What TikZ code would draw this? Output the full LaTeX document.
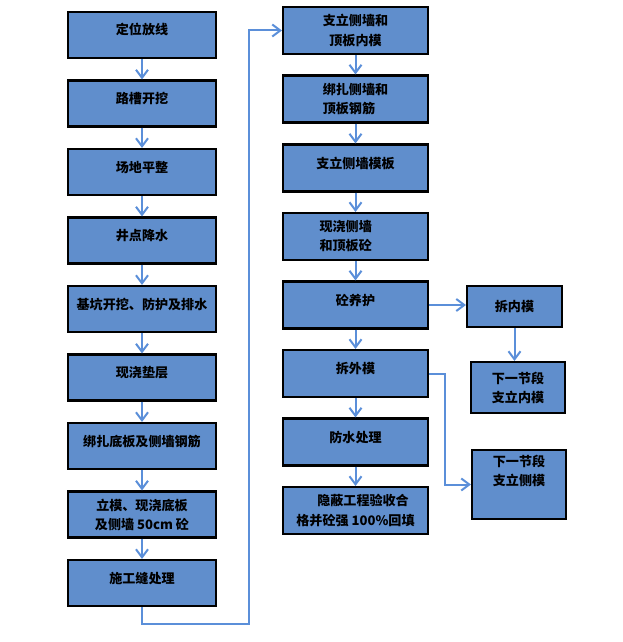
\documentclass[tikz,border=0pt]{standalone}
\usepackage{fontspec}
\setmainfont{Noto Sans CJK SC}
\usetikzlibrary{arrows.meta}

\definecolor{paperblue}{RGB}{96,142,204}
\definecolor{linkblue}{RGB}{91,143,217}

\begin{document}
\begin{tikzpicture}[x=0.75pt,y=-0.75pt]
	\tikzstyle{every node}+=[font=\fontsize{9.8pt}{14.3pt}\selectfont\bfseries]
	\tikzstyle{box}=[draw=black,line width=1.6pt,fill=paperblue,inner sep=2pt,align=center,minimum width=111pt,minimum height=34.5pt]
	\tikzstyle{rbox}=[box,minimum width=108.75pt,minimum height=35.25pt]
	\tikzstyle{raised}=[text height=0.8em,text depth=0.8em]
	\tikzstyle{link}=[draw=linkblue,line width=1.5pt,-{Straight Barb[length=6pt,width=9pt]}]
	\useasboundingbox (0,0) rectangle (622,642);
	% left column
	\node [box,raised] (dwfx) at (142,35) {定位放线};
	\node [box,raised] (lckw) at (142,103.5) {路槽开挖};
	\node [box,raised] (cdpz) at (142,172) {场地平整};
	\node [box,raised] (jdjs) at (142,240.5) {井点降水};
	\node [box,raised] (jkkw) at (142,309) {基坑开挖、防护及排水};
	\node [box,raised] (xjdc) at (142,377.5) {现浇垫层};
	\node [box,raised] (bzdb) at (142,446) {绑扎底板及侧墙钢筋};
	\node [box] (lmxj) at (142,514.5) {立模、现浇底板\\及侧墙 50cm 砼};
	\node [box,raised] (sgf) at (142,583) {施工缝处理};
	% right column
	\node [rbox] (zlnm) at (355.5,30.5) {支立侧墙和\\顶板内模};
	\node [rbox,align=left] (bzcq) at (355.5,99) {绑扎侧墙和\\顶板钢筋};
	\node [rbox,raised] (zlcm) at (355.5,168) {支立侧墙模板};
	\node [rbox] (xjcq) at (355.5,236.5) {现浇侧墙\hspace*{1.5em}\\和顶板砼\hspace*{1.5em}};
	\node [rbox,raised] (yhu) at (355.5,305) {砼养护};
	\node [rbox,raised] (cwm) at (355.5,373.5) {拆外模};
	\node [rbox,raised] (fscl) at (355.5,442) {防水处理};
	\node [rbox,align=left] (ybgc) at (355.5,510.5) {\hspace*{1.6em}隐蔽工程验收合\\格并砼强 100\%回填};
	% next segment
	\node [box,minimum width=71.25pt,minimum height=30.75pt] (cnm) at (514.5,306.5) {拆内模};
	\node [box,minimum width=70.5pt,minimum height=38.25pt] (xnm) at (518,387.5) {下一节段\\支立内模};
	\node [box,minimum width=70.5pt,minimum height=51.75pt,text depth=21pt] (xcm) at (519,484.5) {下一节段\\支立侧模};
	\coordinate (loop) at (249,624);
	% links
	\draw [link] (dwfx) -- (lckw);
	\draw [link] (lckw) -- (cdpz);
	\draw [link] (cdpz) -- (jdjs);
	\draw [link] (jdjs) -- (jkkw);
	\draw [link] (jkkw) -- (xjdc);
	\draw [link] (xjdc) -- (bzdb);
	\draw [link] (bzdb) -- (lmxj);
	\draw [link] (lmxj) -- (sgf);
	\draw [link] (sgf.south) |- (loop) |- (zlnm.west);
	\draw [link] (zlnm) -- (bzcq);
	\draw [link] (bzcq) -- (zlcm);
	\draw [link] (zlcm) -- (xjcq);
	\draw [link] (xjcq) -- (yhu);
	\draw [link] (yhu) -- (cwm);
	\draw [link] (cwm) -- (fscl);
	\draw [link] (fscl) -- (ybgc);
	\draw [link] (yhu.east) -- (yhu.east -| cnm.west);
	\draw [link] (cnm.south) -- (cnm.south |- xnm.north);
	\draw [link] (cwm.east) -- ++(16,0) |- (xcm.west);
\end{tikzpicture}
\end{document}
